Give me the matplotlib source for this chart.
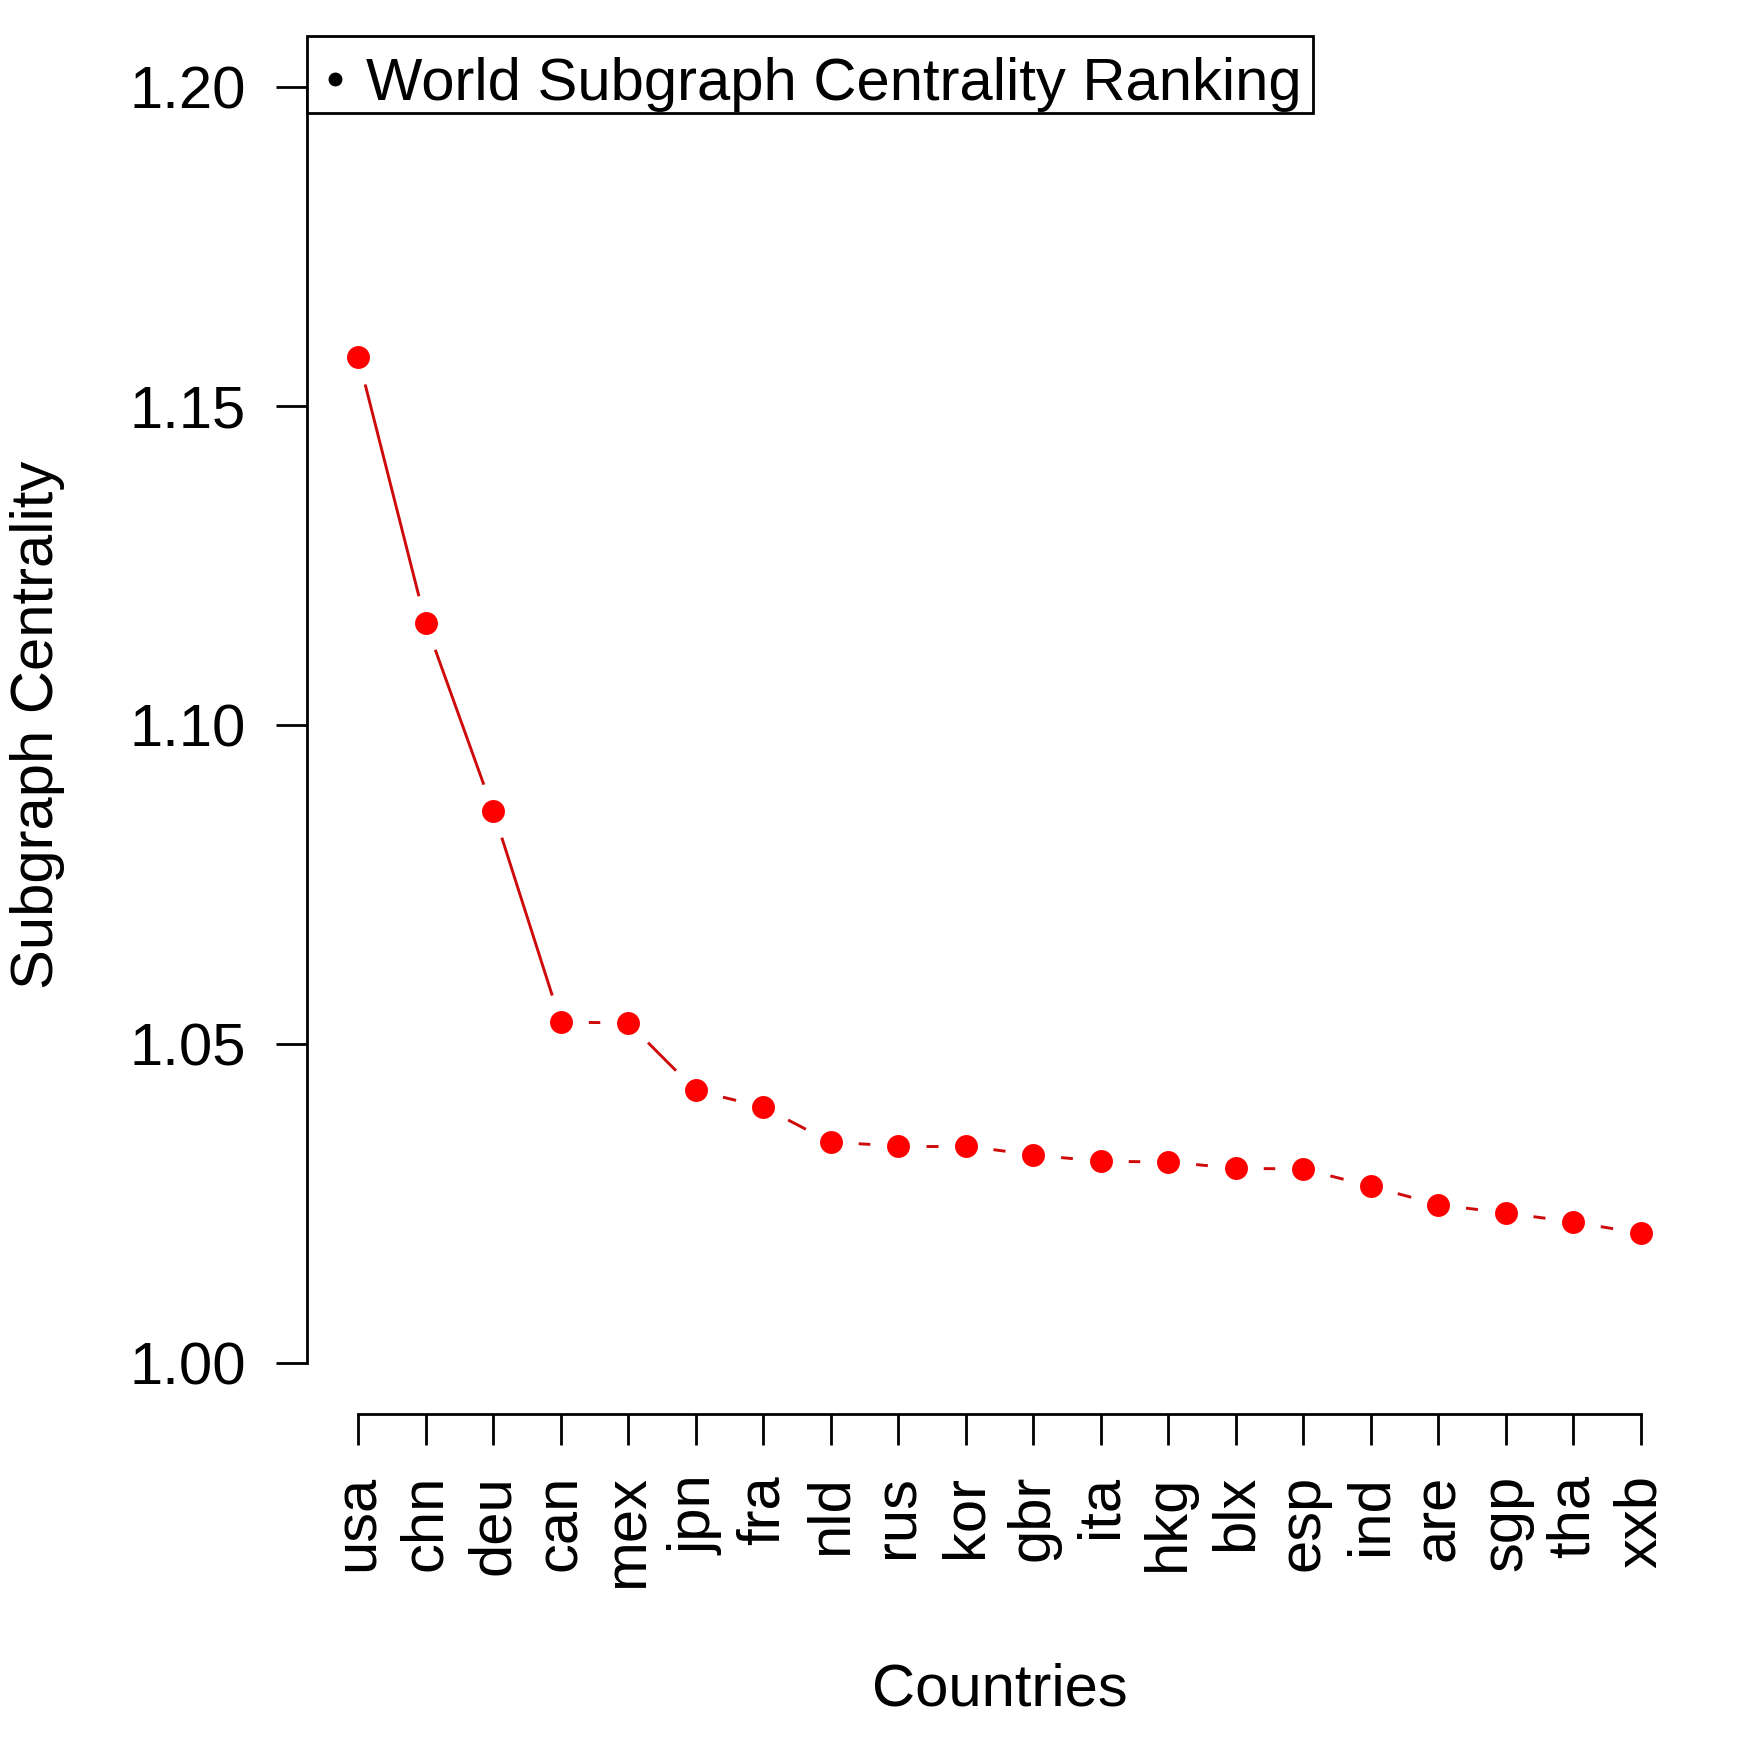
import numpy as np
import matplotlib
matplotlib.use("Agg")
import matplotlib.pyplot as plt
from matplotlib.lines import Line2D
from matplotlib.transforms import Affine2D

countries = ["usa", "chn", "deu", "can", "mex", "jpn", "fra", "nld", "rus", "kor",
             "gbr", "ita", "hkg", "blx", "esp", "ind", "are", "sgp", "tha", "xxb"]
centrality = [1.1576, 1.1159, 1.0865, 1.0534, 1.0533, 1.0427, 1.0401, 1.0346, 1.0340, 1.0340,
              1.0326, 1.0316, 1.0315, 1.0305, 1.0304, 1.0277, 1.0248, 1.0235, 1.0221, 1.0203]
y_ticks = [1.00, 1.05, 1.10, 1.15, 1.20]
y_tick_labels = ["1.00", "1.05", "1.10", "1.15", "1.20"]
legend_label = "World Subgraph Centrality Ranking"

plt.rcParams['font.family'] = ['Liberation Sans', 'DejaVu Sans']

W, H, DPI = 1765, 1737, 100
fig = plt.figure(figsize=(W / DPI, H / DPI), dpi=DPI)
ax = fig.add_axes([307 / W, 1 - 1414 / H, (1692 - 307) / W, (1414 - 35.7) / H])

x = np.arange(1, len(countries) + 1)
y = np.array(centrality)
ax.set_xlim(1 - 0.04 * 19, 20 + 0.04 * 19)
ax.set_ylim(1.0 - 0.008, 1.2 + 0.008)

# R type="b": segments with gaps around the points
gap_px = 28
pts = ax.transData.transform(np.column_stack([x, y]))
inv = ax.transData.inverted()
for i in range(len(x) - 1):
    p0, p1 = pts[i], pts[i + 1]
    d = p1 - p0
    L = np.hypot(*d)
    if L > 2 * gap_px:
        u = d / L
        a = inv.transform(p0 + u * gap_px)
        b = inv.transform(p1 - u * gap_px)
        ax.plot([a[0], b[0]], [a[1], b[1]], color='#cf0a0a', lw=2.1,
                solid_capstyle='butt')

ax.plot(x, y, linestyle='none', marker='o', markersize=16.5, color='#ff0000',
        markeredgewidth=0)

lw = 2.0
for s in ['top', 'right']:
    ax.spines[s].set_visible(False)
ax.spines['left'].set_bounds(1.0, 1.2)
ax.spines['bottom'].set_bounds(1, 20)
for s in ['left', 'bottom']:
    ax.spines[s].set_linewidth(lw)

ax.set_yticks(y_ticks)
ax.set_yticklabels(y_tick_labels)
ax.set_xticks(x)
ax.set_xticklabels(countries, rotation=90)
ax.tick_params(axis='both', length=22, width=lw, labelsize=43, pad=22, direction='out')

ax.set_xlabel("Countries", fontsize=43, va='baseline')
ax.xaxis.set_label_coords(0.5, (1414 - 1705.7) / (1414 - 35.7))
ax.set_ylabel("Subgraph Centrality", fontsize=43, va='center')
ax.yaxis.set_label_coords((38 - 307) / (1692 - 307), 0.5)

handle = Line2D([], [], marker='o', color='black', linestyle='none', markersize=9)
leg = ax.legend([handle], [legend_label], loc='upper left', bbox_to_anchor=(0, 1),
                borderaxespad=0, fontsize=43, frameon=True, fancybox=False,
                borderpad=0.19, handlelength=0.55, handletextpad=0.25,
                edgecolor='black', framealpha=1)
leg.get_frame().set_linewidth(lw)
# nudge legend content down a little inside its box, as in the original
shift = Affine2D().translate(0, -10)
for art in list(leg.get_texts()) + list(leg.legend_handles):
    art.set_transform(art.get_transform() + shift)

fig.savefig("out.png", dpi=DPI, facecolor='white')
